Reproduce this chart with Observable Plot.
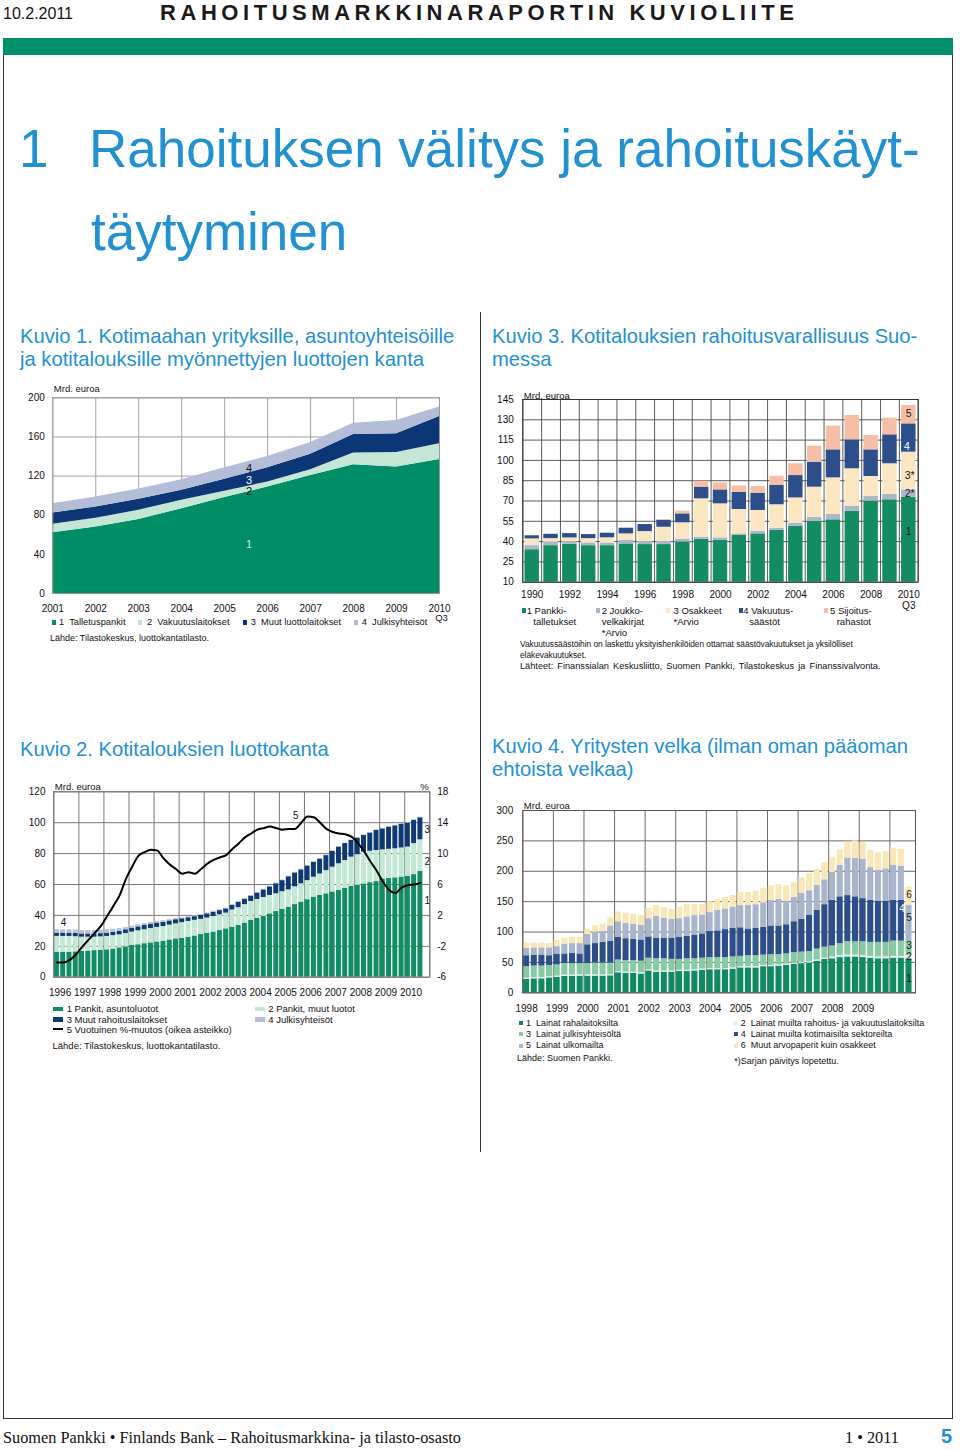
<!DOCTYPE html>
<html lang="fi">
<head>
<meta charset="utf-8">
<title>Rahoitusmarkkinaraportin kuvioliite</title>
<script src="https://cdn.jsdelivr.net/npm/d3@7"></script>
<script src="https://cdn.jsdelivr.net/npm/@observablehq/plot@0.6"></script>
<style>
html,body{margin:0;padding:0;background:#fff;}
#page{position:relative;width:960px;height:1450px;overflow:hidden;font-family:"Liberation Sans",Arial,Helvetica,sans-serif;color:#111;}
.t{position:absolute;white-space:pre;}
.chart{position:absolute;}
.chart svg{display:block;max-width:none;}
</style>
</head>
<body>
<div id="page"></div>
<script>
// ---------------- DATA ----------------
// Kuvio 1 (Mrd. euroa), annual 2001..2010Q3
const c1Years = [2001, 2002, 2003, 2004, 2005, 2006, 2007, 2008, 2009, 2010];
const c1YTicks = [0, 40, 80, 120, 160, 200];
const c1Names = ["Talletuspankit", "Vakuutuslaitokset", "Muut luottolaitokset", "Julkisyhteisöt"];
const c1Talletuspankit = [62, 68, 75.5, 86.7, 98, 108.8, 120.7, 131.6, 129.3, 137];
const c1Vakuutuslaitokset = [8.7, 8.9, 9.5, 8.5, 6.4, 5.2, 5.8, 11.9, 14.9, 16];
const c1MuutLuottolaitokset = [11.6, 11.5, 11.3, 10.2, 12.3, 14.6, 15.7, 19.1, 19.1, 28];
const c1Julkisyhteisot = [9.5, 10.2, 10.5, 10.9, 11.9, 11.4, 12.2, 11.4, 13.6, 9.5];

// Kuvio 3 (Mrd. euroa), annual 1990..2010Q3
const c3Years = [1990, 1991, 1992, 1993, 1994, 1995, 1996, 1997, 1998, 1999, 2000, 2001, 2002, 2003, 2004, 2005, 2006, 2007, 2008, 2009, 2010];
const c3YTicks = [10, 25, 40, 55, 70, 85, 100, 115, 130, 145];
const c3Names = ["Pankkitalletukset", "Joukkovelkakirjat", "Osakkeet", "Vakuutussäästöt", "Sijoitusrahastot"];
const c3Pankki = [34, 37, 38, 37, 37, 38.3, 37.8, 37.8, 39.6, 41.8, 40.8, 44.5, 45.7, 48.4, 51.4, 54.8, 56.1, 62.5, 69.9, 70.9, 72.8];
const c3Joukko = [3, 2.5, 1.8, 2, 2, 2.5, 2.2, 2.5, 2.2, 1.5, 2, 1.2, 2, 1.5, 2.2, 3, 3.9, 3.7, 3.4, 3.9, 5.4];
const c3Osakkeet = [5, 2.7, 2.9, 3.2, 3.8, 4.9, 7.4, 10.3, 12.1, 28.3, 25.1, 18, 15.3, 17.3, 18.7, 22.4, 27.1, 27.6, 14.8, 22.7, 27.9];
const c3Vakuutus = [2.3, 3.2, 3.2, 3, 3.4, 4.2, 5.2, 5, 6.6, 8.6, 10.3, 12.6, 12.8, 14.5, 16.5, 18.5, 20.7, 21.4, 19.7, 21.4, 20.9];
const c3Sijoitus = [0, 0, 0, 0, 0, 0, 0, 0.7, 2, 4.4, 5.2, 4.9, 4.9, 6.6, 8.7, 11.8, 17.5, 18, 10.6, 12.3, 13.6];

// Kuvio 2 (Mrd. euroa + %), quarterly 1996Q1..2010Q3
const c2Years = [1996, 1997, 1998, 1999, 2000, 2001, 2002, 2003, 2004, 2005, 2006, 2007, 2008, 2009, 2010];
const c2YTicks = [0, 20, 40, 60, 80, 100, 120];
const c2Names = ["Pankit, asuntoluotot", "Pankit, muut luotot", "Muut rahoituslaitokset", "Julkisyhteisöt"];
const c2Asunto = [16.2,16.2,16.2,16.4, 16.8,16.9,17.2,17.3, 17.7,18.2,19.0,19.6, 20.5,21.0,21.7,22.2, 22.8,23.3,24.1,24.8, 25.2,25.9,26.7,27.6, 28.3,29.2,30.2,31.3, 32.2,33.5,35.0,36.7, 38.0,39.4,41.0,42.5, 44.0,45.3,47.0,48.6, 50.2,51.8,53.0,54.0, 55.2,56.1,57.5,58.7, 59.5,60.4,61.2,61.9, 63.6,63.9,64.3,64.8, 65.2,66.4,68.6];
const c2Muut = [10.2,10.2,10.2,9.8, 9.1,9.0,8.7,8.8, 8.7,8.7,8.4,8.7, 8.7,9.0,9.0,9.3, 9.4,9.5,9.6,9.7, 10.1,10.2,10.1,9.8, 10.0,10.1,10.2,10.2, 11.3,11.5,12.0,12.3, 12.3,12.2,11.9,11.5, 11.3,11.2,11.5,11.8, 12.3,12.9,13.8,15.0, 16.0,17.3,18.0,19.0, 19.8,20.6,20.3,20.1, 18.8,18.9,18.8,18.8, 19.0,20.1,20.3];
const c2Rahoitus = [2.1,2.1,2.1,2.1, 2.1,2.1,2.1,2.1, 2.1,2.1,2.4,2.4, 2.5,2.6,2.8,2.8, 2.8,2.8,2.7,2.7, 2.5,2.4,2.4,2.6, 2.7,2.8,2.7,2.7, 3.0,3.5,3.5,3.5, 4.2,4.9,5.6,6.5, 7.2,8.5,9.0,9.1, 9.5,9.7,9.7,9.7, 10.3,10.8,11.0,10.8, 10.7,10.7,11.8,13.0, 13.6,14.3,14.9,15.4, 15.5,15.0,14.3];
const c2Julki = [2.2,2.2,2.2,2.2, 2.2,2.2,2.2,2.2, 2.2,2.0,1.6,1.5, 1.3,1.3,1.3,1.2, 1.1,0.9,0.8,0.7, 0.6,0.6,0.5,0.5, 0.5,0.5,0.5,0.5, 0.4,0.4,0.4,0.4, 0.4,0.4,0.4,0.4, 0.4,0.4,0.4,0.4, 0.3,0.3,0.3,0.3, 0.3,0.3,0.3,0.3, 0.3,0.3,0.3,0.3, 0.3,0.3,0.3,0.3, 0.3,0.3,0.3];
const c2Muutos = [-4.1,-4.1,-3.8,-3.1, -2.1,-1.2,-0.3,0.6, 1.9,3.2,4.6,6.7, 8.3,9.7,10.2,10.5, 10.4,9.4,8.6,8.0, 7.4,7.6,7.4,8.0, 8.7,9.2,9.5,9.8, 10.6,11.3,12.1,12.6, 13.1,13.3,13.5,13.3, 13.1,13.2,13.2,14.0, 14.8,14.7,14.0,13.2, 12.8,12.6,12.5,12.2, 11.4,10.3,9.0,7.8, 6.4,5.3,4.9,5.6, 5.9,6.0,6.2];
const c2RightTicks = [-6, -2, 2, 6, 10, 14, 18];

// Kuvio 4 (Mrd. euroa), quarterly 1998Q1..2010Q3
const c4Years = [1998, 1999, 2000, 2001, 2002, 2003, 2004, 2005, 2006, 2007, 2008, 2009];
const c4YTicks = [0, 50, 100, 150, 200, 250, 300];
const c4Names = ["Lainat rahalaitoksilta", "Lainat muilta rahoitus- ja vakuutuslaitoksilta", "Lainat julkisyhteisöltä", "Lainat muilta kotimaisilta sektoreilta", "Lainat ulkomailta", "Muut arvopaperit kuin osakkeet"];
const c4Raha = [22,23,23,24.5, 25.5,27,27,27.5, 27.5,27.5,27.5,28, 33,32,32,31, 36,34,34,34, 35,35,36,37, 38,38,38,39, 41,41,41,43, 43,44,45,47, 48,49,52,55, 56,58,59,59, 58,57,56,56, 57,57,56];
const c4MuutRahoitus = [2,2,2,2, 2,2,2,2, 2,2,2,2, 2,2,2,2, 2,2,2,2, 2,2,2,2, 2,2,2,2, 2,2,2,2, 2,2,2,2, 2,2,2,2, 3,3,3,3, 3,3,3,3, 3,3,5];
const c4Julki = [19,19,19,18.5, 18.5,19,19,18.5, 18.5,19.5,19.5,19, 19,19,19,19, 19,20,20,19, 18,19,18,18, 18,18,18,18, 17,18,18,17, 18,17,17,17, 17,17,18,18, 18,20,22,22, 23,23,24,24, 25,25,25];
const c4Kotimaiset = [18,18,18,16, 17,16,17,16, 31,32,34,36, 37,36,35,35, 35,34,34,35, 36,37,39,40, 43,44,46,47, 47,44,45,46, 47,47,48,51, 54,60,64,70, 75,77,76,74, 71,69,68,68, 67,67,0];
const c4Ulkomaat = [12,12,12,13, 13,16,16,17, 17,19,18,25, 26,25,25,24, 30,36,33,31, 31,32,32,31, 31,34,34,35, 37,39,39,40, 42,44,39,40, 43,40,41,41, 46,52,62,63, 65,54,51,53, 58,56,58];
const c4Arvopaperit = [9,8,8,7, 10,10,10,10, 8,10,12,13, 16,17,16,16, 17,18,17,16, 19,20,18,17, 18,17,19,19, 21,21,22,24, 24,24,25,24, 25,28,26,28, 25,25,26,29, 27,28,28,28, 28,28,30];

// ---------------- HELPERS ----------------
const FONT = "'Liberation Sans', Arial, Helvetica, sans-serif";
const page = document.getElementById("page");
const hasAxisMark = typeof Plot.axisY === "function";

function el(css, text, cls) {
  const e = document.createElement("div");
  if (cls) e.className = cls;
  Object.assign(e.style, css);
  if (text != null) e.textContent = text;
  page.appendChild(e);
  return e;
}
function txt(text, x, yc, size, extra = {}) {
  const lh = size * 1.2;
  return el(Object.assign({left: x + "px", top: (yc - lh / 2) + "px", fontSize: size + "px", lineHeight: lh + "px"}, extra), text, "t");
}
function swatch(x, yc, w, h, color) {
  el({position: "absolute", left: x + "px", top: (yc - h / 2) + "px", width: w + "px", height: h + "px", background: color});
}
function place(svg, left, top) {
  const d = el({left: left + "px", top: top + "px"}, null, "chart");
  d.appendChild(svg);
}
function stackRows(n, names, arrays, xOf) {
  const rows = [];
  for (let i = 0; i < n; i++) {
    let acc = 0;
    names.forEach((name, s) => {
      const v = arrays[s][i];
      rows.push({i, x: xOf(i), series: name, y1: acc, y2: acc + v});
      acc += v;
    });
  }
  return rows;
}
const baseStyle = {fontFamily: FONT, fontSize: "10px", color: "#111", background: "none", overflow: "visible"};

// ---------------- PAGE FRAME ----------------
txt("10.2.2011", 3, 14, 16, {color: "#111"});
txt("RAHOITUSMARKKINARAPORTIN KUVIOLIITE", 160, 13, 22, {fontWeight: "bold", letterSpacing: "4.55px", color: "#1a1a1a"});
el({position: "absolute", left: "3px", top: "38px", width: "950px", height: "17px", background: "#00916b"});
el({position: "absolute", left: "3px", top: "55px", width: "948px", height: "1363px", borderLeft: "1px solid #333", borderRight: "1px solid #333", borderBottom: "1px solid #333"});
const titleCss = {color: "#2191d1", fontSize: "53px", lineHeight: "53px"};
el(Object.assign({left: "19px", top: "122px"}, titleCss), "1", "t");
el(Object.assign({left: "89px", top: "122px"}, titleCss), "Rahoituksen välitys ja rahoituskäyt-", "t");
el(Object.assign({left: "91px", top: "205px"}, titleCss), "täytyminen", "t");
el({position: "absolute", left: "480px", top: "312px", width: "1px", height: "840px", background: "#333"});

const capCss = {color: "#2191d1", fontSize: "20.2px", lineHeight: "23px"};
el(Object.assign({left: "20px", top: "325px"}, capCss), "Kuvio 1. Kotimaahan yrityksille, asuntoyhteisöille\nja kotitalouksille myönnettyjen luottojen kanta", "t");
el(Object.assign({left: "492px", top: "325px"}, capCss), "Kuvio 3. Kotitalouksien rahoitusvarallisuus Suo-\nmessa", "t");
el(Object.assign({left: "20px", top: "738px"}, capCss), "Kuvio 2. Kotitalouksien luottokanta", "t");
el(Object.assign({left: "492px", top: "735px"}, capCss), "Kuvio 4. Yritysten velka (ilman oman pääoman\nehtoista velkaa)", "t");

const serif = {fontFamily: "'Liberation Serif', 'Times New Roman', serif", color: "#111"};
txt("Suomen Pankki • Finlands Bank – Rahoitusmarkkina- ja tilasto-osasto", 3, 1438, 16.3, serif);
txt("1 • 2011", 845, 1438, 16.3, serif);
txt("5", 941, 1436, 20, {fontWeight: "bold", color: "#2191d1"});

// ---------------- KUVIO 1 ----------------
const c1Colors = ["#008e66", "#c4e6d4", "#0c3675", "#b3bdd7"];
const c1Rows = stackRows(c1Years.length, c1Names, [c1Talletuspankit, c1Vakuutuslaitokset, c1MuutLuottolaitokset, c1Julkisyhteisot], i => c1Years[i]);
const c1Ann = [
  {t: "1", x: 2005.57, y: 50, c: "#c8f0de"},
  {t: "2", x: 2005.57, y: 104.4, c: "#111"},
  {t: "3", x: 2005.57, y: 115.3, c: "#ffffff"},
  {t: "4", x: 2005.57, y: 127.6, c: "#111"}
];
place(Plot.plot({
  width: 470, height: 240, marginLeft: 52.3, marginRight: 31, marginTop: 17.3, marginBottom: 27,
  style: baseStyle,
  x: {domain: [2001, 2010], ticks: c1Years, tickFormat: d => String(d), tickSize: 0, tickPadding: 11, label: null},
  y: {domain: [0, 200], ticks: c1YTicks, tickSize: 0, tickPadding: 8, label: null},
  color: {domain: c1Names, range: c1Colors},
  marks: [
    Plot.ruleX(c1Years, {stroke: "#a3a3a3"}),
    Plot.ruleY(c1YTicks, {stroke: "#a3a3a3"}),
    Plot.areaY(c1Rows, {x: "x", y1: "y1", y2: "y2", z: "series", fill: "series"}),
    Plot.frame({stroke: "#999"}),
    ...c1Ann.map(a => Plot.text([a], {x: "x", y: "y", text: "t", fill: a.c, fontSize: 11})),
    Plot.text(["Q3"], {x: 2010, y: 0, text: d => d, dy: 24, dx: 2, fontSize: 9.5}),
    Plot.text(["Mrd. euroa"], {x: 2001, y: 200, text: d => d, dy: -9, dx: 1, textAnchor: "start", fontSize: 9.5})
  ]
}), 0, 380);
const c1LegX = [[51.7, 59], [138, 147], [243, 250.7], [354, 361.7]];
c1Names.forEach((n, k) => {
  swatch(c1LegX[k][0], 622.7, 4, 4.5, c1Colors[k]);
  txt(`${k + 1}  ${n}`, c1LegX[k][1], 622.7, 9.3);
});
txt("Lähde: Tilastokeskus, luottokantatilasto.", 50, 638, 9);

// ---------------- KUVIO 3 ----------------
const c3Colors = ["#138c64", "#a9b7c9", "#fbe6c2", "#2c4f8c", "#f6bfa5"];
const c3Rows = stackRows(c3Years.length, c3Names, [c3Pankki, c3Joukko, c3Osakkeet, c3Vakuutus, c3Sijoitus], i => i);
const c3Ann = [
  {t: "5", x: 20.5, y: 134.7, c: "#1a1a1a"},
  {t: "4", x: 20.4, y: 110.3, c: "#ffffff"},
  {t: "3*", x: 20.55, y: 88.8, c: "#1a1a1a"},
  {t: "2*", x: 20.55, y: 75.5, c: "#1a1a1a"},
  {t: "1", x: 20.5, y: 47.4, c: "#1a1a1a"}
];
place(Plot.plot({
  width: 470, height: 227, marginLeft: 32.3, marginRight: 42.3, marginTop: 14, marginBottom: 30.3,
  style: baseStyle,
  x: {domain: [0, 21], ticks: c3Years.map((y, i) => i + 0.5).filter((v, i) => i % 2 === 0), tickFormat: v => String(c3Years[Math.floor(v)]), tickSize: 0, tickPadding: 9, label: null},
  y: {domain: [10, 145], ticks: c3YTicks, tickSize: 0, tickPadding: 9, label: null},
  color: {domain: c3Names, range: c3Colors},
  marks: [
    Plot.ruleX(d3.range(0, 22), {stroke: "#4a4a4a", strokeWidth: 0.9}),
    Plot.ruleY(c3YTicks, {stroke: "#4a4a4a", strokeWidth: 0.9}),
    Plot.rectY(c3Rows.filter(d => d.y2 > d.y1), {x1: "x", x2: d => d.x + 1, y1: d => Math.max(10, d.y1), y2: "y2", fill: "series", insetLeft: 2.2, insetRight: 2.2}),
    Plot.frame({stroke: "#333"}),
    ...c3Ann.map(a => Plot.text([a], {x: "x", y: "y", text: "t", fill: a.c, fontSize: 10.5})),
    Plot.text(["Q3"], {x: 20.5, y: 10, text: d => d, dy: 23.3, fontSize: 10}),
    Plot.text(["Mrd. euroa"], {x: 0, y: 145, text: d => d, dy: -4, dx: 1, textAnchor: "start", fontSize: 9.5})
  ]
}), 490, 385);
const c3Leg = [
  {mx: 521.7, lines: [[526.7, "1 Pankki-"], [533.3, "talletukset"]]},
  {mx: 596, lines: [[601.7, "2 Joukko-"], [601.7, "velkakirjat"], [601.7, "*Arvio"]]},
  {mx: 665.7, lines: [[673.5, "3 Osakkeet"], [673.5, "*Arvio"]]},
  {mx: 738.7, lines: [[743.3, "4 Vakuutus-"], [749.3, "säästöt"]]},
  {mx: 824.3, lines: [[830, "5 Sijoitus-"], [836.7, "rahastot"]]}
];
c3Leg.forEach((it, k) => {
  swatch(it.mx, 610.7, 4, 4.5, c3Colors[k]);
  it.lines.forEach((l, j) => txt(l[1], l[0], 610.7 + 11 * j, 9.5));
});
txt("Vakuutussäästöihin on laskettu yksityishenkilöiden ottamat säästövakuutukset ja yksilölliset", 520, 644.5, 8.4, {letterSpacing: "-0.05px"});
txt("eläkevakuutukset.", 520, 655, 8.4, {letterSpacing: "-0.05px"});
txt("Lähteet: Finanssialan Keskusliitto, Suomen Pankki, Tilastokeskus ja Finanssivalvonta.", 520, 667, 9.2, {wordSpacing: "1.6px"});

// ---------------- KUVIO 2 ----------------
const c2Colors = ["#0f8d65", "#c3e9d5", "#0d3a74", "#b4bfdb"];
const c2Rows = stackRows(c2Asunto.length, c2Names, [c2Asunto, c2Muut, c2Rahoitus, c2Julki], i => i);
const c2Line = c2Muutos.map((r, i) => ({x: i + 0.5, y: (r + 6) * 5}));
const c2Ann = [
  {t: "4", x: 1.55, y: 35.4},
  {t: "5", x: 38.6, y: 104.7},
  {t: "3", x: 59.6, y: 95.6},
  {t: "2", x: 59.6, y: 75},
  {t: "1", x: 59.6, y: 49.7}
];
const c2Axis = hasAxisMark ? [
  Plot.axisY({anchor: "left", ticks: c2YTicks, tickSize: 0, tickPadding: 8.3, label: null}),
  Plot.axisY({anchor: "right", ticks: c2YTicks, tickFormat: v => String(v / 5 - 6), tickSize: 0, tickPadding: 7.4, label: null})
] : [
  Plot.text(c2YTicks, {x: 60, y: d => d, text: d => String(d / 5 - 6), dx: 7.4, textAnchor: "start"})
];
place(Plot.plot({
  width: 470, height: 225, marginLeft: 53.3, marginRight: 40.7, marginTop: 16.3, marginBottom: 23.3,
  style: baseStyle,
  x: {domain: [0, 60], ticks: c2Years.map((y, k) => 4 * k + 1), tickFormat: v => String(c2Years[(v - 1) / 4]), tickSize: 0, tickPadding: 11.5, label: null},
  y: {domain: [0, 120], ticks: c2YTicks, tickSize: 0, tickPadding: 8.3, label: null},
  color: {domain: c2Names, range: c2Colors},
  marks: [
    Plot.ruleX(d3.range(0, 61, 4), {stroke: "#7a7a7a"}),
    Plot.ruleY(c2YTicks, {stroke: "#7a7a7a"}),
    Plot.rectY(c2Rows, {x1: "x", x2: d => d.x + 1, y1: "y1", y2: "y2", fill: "series", insetLeft: 0.65, insetRight: 0.65}),
    Plot.lineY(c2Line, {x: "x", y: "y", stroke: "#000", strokeWidth: 2, curve: "monotone-x"}),
    Plot.frame({stroke: "#777"}),
    ...c2Axis,
    Plot.text(c2Ann, {x: "x", y: "y", text: "t", fill: "#111", fontSize: 10}),
    Plot.text(["Mrd. euroa"], {x: 0, y: 120, text: d => d, dy: -5.3, dx: 1, textAnchor: "start", fontSize: 9.5}),
    Plot.text(["%"], {x: 60, y: 120, text: d => d, dy: -5, dx: -1, textAnchor: "end", fontSize: 9.5})
  ]
}), 0, 775);
const c2Leg = [[53.3, 1009, 66.7], [255, 1009, 268.3], [53.3, 1019.3, 66.7], [255, 1019.3, 268.3]];
c2Names.forEach((n, k) => {
  swatch(c2Leg[k][0], c2Leg[k][1], 10, 4.5, c2Colors[k]);
  txt(`${k + 1} ${n}`, c2Leg[k][2], c2Leg[k][1], 9.5);
});
swatch(53.3, 1029.3, 10, 2, "#000");
txt("5 Vuotuinen %-muutos (oikea asteikko)", 66.7, 1029.3, 9.5);
txt("Lähde: Tilastokeskus, luottokantatilasto.", 52.5, 1046, 9.5);

// ---------------- KUVIO 4 ----------------
const c4Colors = ["#0f8b64", "#dcf2e7", "#86cba4", "#2c4f8c", "#a8b5cc", "#fae7b5"];
const c4Rows = stackRows(c4Raha.length, c4Names, [c4Raha, c4MuutRahoitus, c4Julki, c4Kotimaiset, c4Ulkomaat, c4Arvopaperit], i => i);
const c4Ann = [
  {t: "6", x: 50.5, y: 161.3, c: "#1a1a1a"},
  {t: "5", x: 50.5, y: 123.4, c: "#1a1a1a"},
  {t: "4", x: 49.6, y: 138.2, c: "#ffffff"},
  {t: "3", x: 50.5, y: 77.8, c: "#1a1a1a"},
  {t: "2", x: 50.5, y: 58.6, c: "#1a1a1a"},
  {t: "1", x: 50.5, y: 23, c: "#1a1a1a"}
];
place(Plot.plot({
  width: 470, height: 220, marginLeft: 32.3, marginRight: 45, marginTop: 15, marginBottom: 22.7,
  style: baseStyle,
  x: {domain: [0, 51.35], ticks: c4Years.map((y, k) => 4 * k + 0.5), tickFormat: v => String(c4Years[(v - 0.5) / 4]), tickSize: 0, tickPadding: 12, label: null},
  y: {domain: [0, 300], ticks: c4YTicks, tickSize: 0, tickPadding: 9.6, label: null},
  color: {domain: c4Names, range: c4Colors},
  marks: [
    Plot.ruleX(d3.range(0, 49, 4), {stroke: "#6b6b6b"}),
    Plot.ruleY(c4YTicks, {stroke: "#6b6b6b"}),
    Plot.rectY(c4Rows.filter(d => d.y2 > d.y1), {x1: "x", x2: d => d.x + 1, y1: "y1", y2: "y2", fill: "series", insetLeft: 0.8, insetRight: 0.8}),
    Plot.frame({stroke: "#555"}),
    ...c4Ann.map(a => Plot.text([a], {x: "x", y: "y", text: "t", fill: a.c, fontSize: 10})),
    Plot.text(["Mrd. euroa"], {x: 0, y: 300, text: d => d, dy: -5, dx: 1, textAnchor: "start", fontSize: 9.5})
  ]
}), 490, 795);
const c4LegPos = [[519.3, 526, 1023.3], [734.3, 740.7, 1023.3], [519.3, 526, 1034.3], [734.3, 740.7, 1034.3], [519.3, 526, 1045.7], [734.3, 740.7, 1045.7]];
c4Names.forEach((n, k) => {
  swatch(c4LegPos[k][0], c4LegPos[k][2], 4, 4, c4Colors[k]);
  txt(`${k + 1}  ${n}`, c4LegPos[k][1], c4LegPos[k][2], 9);
});
txt("Lähde: Suomen Pankki.", 517, 1058, 9);
txt("*)Sarjan päivitys lopetettu.", 734.3, 1061.7, 9);
</script>
</body>
</html>
